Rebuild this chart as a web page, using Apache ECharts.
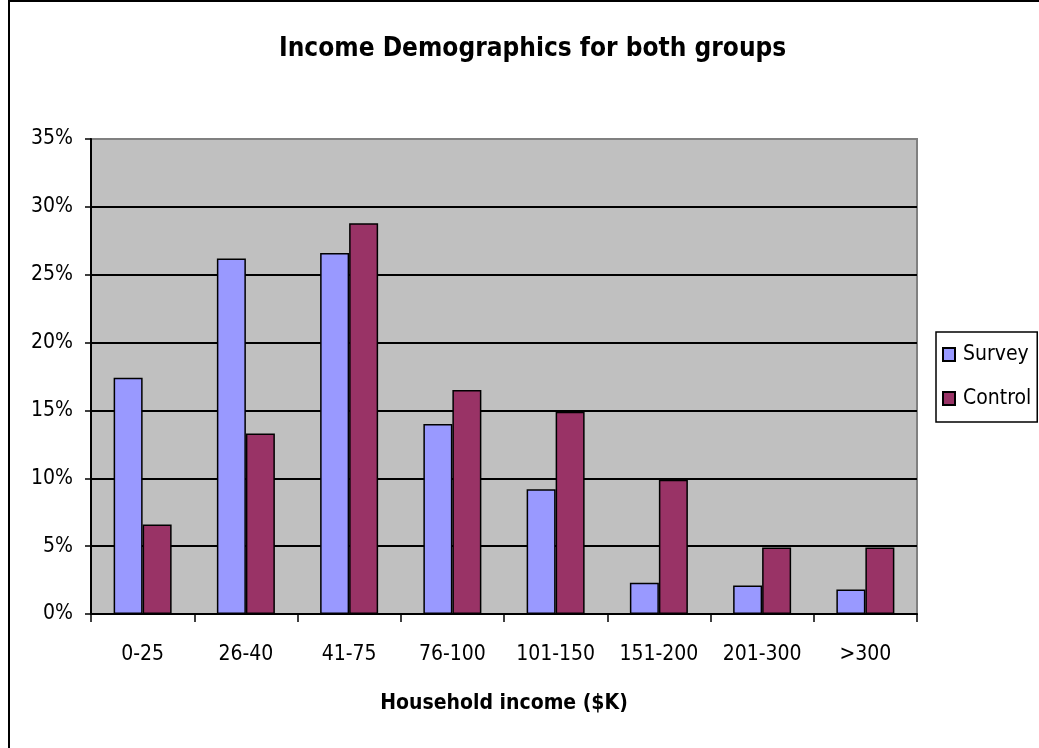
<!DOCTYPE html>
<html>
<head>
<meta charset="utf-8">
<script src="https://cdn.jsdelivr.net/npm/echarts@6/dist/echarts.min.js"></script>
<style>
  html, body { margin: 0; padding: 0; background: #fff; }
  #chart { width: 1039px; height: 748px; }
</style>
</head>
<body>
<div id="chart"></div>
<script>
// Income brackets (thousands of dollars)
const categories = ['0-25', '26-40', '41-75', '76-100', '101-150', '151-200', '201-300', '>300'];
// Share of respondents in each bracket, percent
const surveyValues = [17.4, 26.2, 26.6, 14.0, 9.2, 2.3, 2.1, 1.8];
const controlValues = [6.6, 13.3, 28.8, 16.5, 14.9, 9.9, 4.9, 4.9];
const seriesNames = ['Survey', 'Control'];

const FONT = '"Liberation Sans Narrow", "Arial Narrow", "DejaVu Sans Condensed", sans-serif';

const chart = echarts.init(document.getElementById('chart'), null, { renderer: 'canvas' });

chart.setOption({
  backgroundColor: '#ffffff',
  animation: false,
  title: {
    text: 'Income Demographics for both groups',
    left: 274,
    top: 31,
    textStyle: { fontFamily: FONT, fontSize: 26, fontWeight: 'bold', color: '#000' }
  },
  graphic: [
    {
      type: 'rect',
      shape: { x: 9, y: 1, width: 1100, height: 800 },
      style: { fill: 'none', stroke: '#000', lineWidth: 2 },
      z: 100
    }
  ],
  legend: {
    orient: 'vertical',
    left: 936,
    top: 332,
    data: seriesNames,
    backgroundColor: '#fff',
    borderColor: '#000',
    borderWidth: 1.5,
    padding: [12, 6, 13, 6],
    itemWidth: 12,
    itemHeight: 13,
    itemGap: 23,
    icon: 'rect',
    textStyle: { fontFamily: FONT, fontSize: 21, color: '#000', padding: [0, 0, 0, 3] }
  },
  grid: {
    left: 91,
    right: 122,
    top: 139,
    bottom: 134,
    show: true,
    backgroundColor: '#C0C0C0',
    borderColor: '#808080',
    borderWidth: 2,
    containLabel: false
  },
  xAxis: {
    type: 'category',
    data: categories,
    name: 'Household income ($K)',
    nameLocation: 'middle',
    nameGap: 79,
    nameTextStyle: { fontFamily: FONT, fontSize: 21, fontWeight: 'bold', color: '#000' },
    axisLine: { show: true, lineStyle: { color: '#000', width: 2 } },
    axisTick: { show: true, alignWithLabel: false, length: 8, lineStyle: { color: '#000', width: 1.5 } },
    axisLabel: { fontFamily: FONT, fontSize: 21, color: '#000', margin: 30 },
    splitLine: { show: false }
  },
  yAxis: {
    type: 'value',
    min: 0,
    max: 35,
    interval: 5,
    axisLine: { show: true, lineStyle: { color: '#000', width: 2 } },
    axisTick: { show: true, length: 6, lineStyle: { color: '#000', width: 1.5 } },
    axisLabel: { fontFamily: FONT, fontSize: 21, color: '#000', margin: 18, formatter: '{value}%' },
    splitLine: {
      show: true,
      lineStyle: { color: ['#000', '#000', '#000', '#000', '#000', '#000', '#000', '#808080'], width: 2 }
    }
  },
  series: [
    {
      name: seriesNames[0],
      type: 'bar',
      data: surveyValues,
      barWidth: 29,
      barGap: '0%',
      itemStyle: { color: '#9999FF', borderColor: '#000', borderWidth: 1.5 }
    },
    {
      name: seriesNames[1],
      type: 'bar',
      data: controlValues,
      barWidth: 29,
      barGap: '0%',
      itemStyle: { color: '#993366', borderColor: '#000', borderWidth: 1.5 }
    }
  ]
});
</script>
</body>
</html>
